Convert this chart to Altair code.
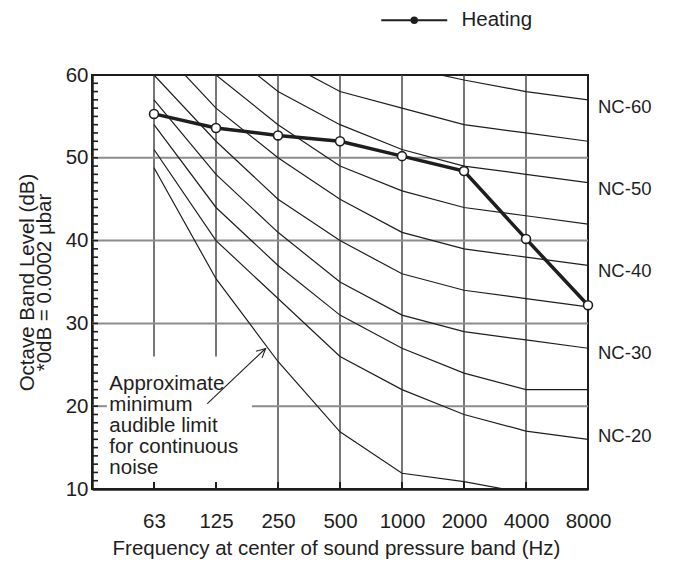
import altair as alt
import pandas as pd

FONT = "Liberation Sans"
INK = "#1e1e1e"

# ---- data ----
freqs = ["63", "125", "250", "500", "1000", "2000", "4000", "8000"]
heating = [55.3, 53.6, 52.7, 52.0, 50.2, 48.4, 40.2, 32.2]

nc_names = ["NC-60", "NC-55", "NC-50", "NC-45", "NC-40", "NC-35", "NC-30", "NC-25", "NC-20"]
nc_60 = [77, 71, 67, 63, 61, 59.4, 58, 57]
nc_55 = [74, 67, 62, 58, 56, 54, 53, 52]
nc_50 = [71, 64, 58, 54, 51, 49, 48, 47]
nc_45 = [67, 60, 54, 49, 46, 44, 43, 42]
nc_40 = [64, 56, 50, 45, 41, 39, 38, 37]
nc_35 = [60, 52, 45, 40, 36, 34, 33, 32]
nc_30 = [57, 48, 41, 35, 31, 29, 28, 27]
nc_25 = [54, 44, 37, 31, 27, 24, 22, 22]
nc_20 = [51, 40, 33, 26, 22, 19, 17, 16]
nc_values = [nc_60, nc_55, nc_50, nc_45, nc_40, nc_35, nc_30, nc_25, nc_20]
audible = [48.8, 35.4, 25.4, 16.9, 11.9, 10.9, 9.5]

nc_label_names = ["NC-60", "NC-50", "NC-40", "NC-30", "NC-20"]
nc_label_levels = [56.1, 46.2, 36.3, 26.4, 16.4]

annotation_text = "Approximate\nminimum\naudible limit\nfor continuous\nnoise"
y_title = ["Octave Band Level (dB)", "*0dB = 0.0002 \u00b5bar"]
x_title = "Frequency at center of sound pressure band (Hz)"

# ---- tables ----
rows = []
for name, vals in zip(nc_names, nc_values):
    for i, v in enumerate(vals):
        rows.append({"curve": name, "x": i + 1, "dB": v})
for i, v in enumerate(audible):
    rows.append({"curve": "audible", "x": i + 1, "dB": v})
curves = pd.DataFrame(rows)

heat = pd.DataFrame({"x": list(range(1, 9)), "dB": heating, "series": "Heating"})

vgrid = pd.DataFrame({"x": list(range(1, 8)),
                      "y1": [26, 26, 10, 10, 10, 10, 10],
                      "y2": [60] * 7})
hgrid = pd.DataFrame({"x1": [0, 0, 0, 0, 2.58], "x2": [8, 8, 8, 0.24, 8],
                      "dB": [50, 40, 30, 20, 20]})
labels = pd.DataFrame({"x": [8] * 5, "dB": nc_label_levels, "t": nc_label_names})
ann = pd.DataFrame({"x": [0.28], "dB": [23.9], "t": [annotation_text]})
arrow = pd.DataFrame({"x": [1.86], "dB": [20.3], "x2": [2.80], "dB2": [26.97]})
yticks = pd.DataFrame({"dB": list(range(11, 60))})
xticks = pd.DataFrame({"x": list(range(1, 8))})

label_expr = "[" + ",".join(["''"] + ["'%s'" % f for f in freqs]) + "][datum.value]"

FS = 20.5
xscale = alt.Scale(domain=[0, 8], nice=False, zero=False)
yscale = alt.Scale(domain=[10, 60], nice=False, zero=False)
xaxis = alt.Axis(values=list(range(1, 9)), labelExpr=label_expr, ticks=False, grid=False,
                 domainColor=INK, domainWidth=2.5, labelFontSize=FS, labelPadding=22,
                 labelOverlap=False, labelFlush=False, labelColor=INK, labelFont=FONT,
                 title=x_title, titleFont=FONT, titleFontSize=FS, titleFontWeight="normal",
                 titleColor=INK, titlePadding=7, titleX=244)
yaxis = alt.Axis(values=[10, 20, 30, 40, 50, 60], ticks=False, grid=False,
                 domainColor=INK, domainWidth=2.5, labelFontSize=FS, labelPadding=4,
                 labelOverlap=False, labelFlush=False, labelColor=INK, labelFont=FONT,
                 title=y_title, titleFont=FONT, titleFontSize=FS, titleFontWeight="normal",
                 titleColor=INK, titlePadding=11, titleLineHeight=17)


def X(f="x"):
    return alt.X(f + ":Q", scale=xscale, axis=xaxis)


def Y(f="dB"):
    return alt.Y(f + ":Q", scale=yscale, axis=yaxis)


# legend symbol: a long stroke with a small dot in the middle
legend_symbol = "M-4,0L4,0M0.32,0A0.32,0.32,0,1,1,-0.32,0A0.32,0.32,0,1,1,0.32,0Z"

vg = alt.Chart(vgrid).mark_rule(color="#4a4a4a", strokeWidth=1.5).encode(
    x=X(), y=Y("y1"), y2="y2:Q")
hg = alt.Chart(hgrid).mark_rule(color="#8c8c8c", strokeWidth=2).encode(
    x=X("x1"), x2="x2:Q", y=Y())
nc = alt.Chart(curves).mark_line(clip=True, color=INK, strokeWidth=1.2).encode(
    x=X(), y=Y(), detail="curve:N", order="x:Q")
hl = alt.Chart(heat).mark_line(strokeWidth=3.5).encode(
    x=X(), y=Y(),
    color=alt.Color("series:N", scale=alt.Scale(range=[INK]),
                    legend=alt.Legend(
                        title=None, orient="none", legendX=312, legendY=-65,
                        symbolType=legend_symbol,
                        symbolSize=272, symbolStrokeWidth=2.2,
                        symbolFillColor=INK, symbolStrokeColor=INK,
                        labelFontSize=FS, labelFont=FONT, labelColor=INK, labelOffset=37)))
hp = alt.Chart(heat).mark_point(shape="circle", filled=True, fill="white", stroke=INK,
                                strokeWidth=1.6, size=80, opacity=1).encode(x=X(), y=Y())
lt = alt.Chart(labels).mark_text(align="left", baseline="middle", dx=10, fontSize=18.5,
                                 font=FONT, color=INK).encode(x=X(), y=Y(), text="t:N")
at = alt.Chart(ann).mark_text(align="left", baseline="top", lineBreak="\n", fontSize=FS,
                              lineHeight=21, font=FONT, color=INK).encode(x=X(), y=Y(), text="t:N")
al = alt.Chart(arrow).mark_rule(color=INK, strokeWidth=1.1).encode(
    x=X(), y=Y(), x2="x2:Q", y2="dB2:Q")
ah = alt.Chart(arrow).mark_point(shape="M-0.5,1L0,0L0.5,1", size=324, filled=False,
                                 stroke=INK, strokeWidth=1.1, angle=47, opacity=1).encode(
    x=X("x2"), y=Y("dB2"))
yt = alt.Chart(yticks).mark_rule(color=INK, strokeWidth=1.6).encode(
    y=Y(), x=alt.value(0), x2=alt.value(6))
xt = alt.Chart(xticks).mark_rule(color=INK, strokeWidth=2).encode(
    x=X(), y=alt.value(414), y2=alt.value(407))

chart = alt.layer(vg, hg, yt, xt, nc, al, ah, at, hl, hp, lt).properties(
    width=496, height=414,
    autosize=alt.AutoSizeParams(type="none"),
    padding={"left": 84, "top": 67, "right": 80, "bottom": 78},
    background="white",
).configure_view(stroke=INK, strokeWidth=2)

chart.save("out.html", embed_options={"renderer": "svg", "actions": False})
